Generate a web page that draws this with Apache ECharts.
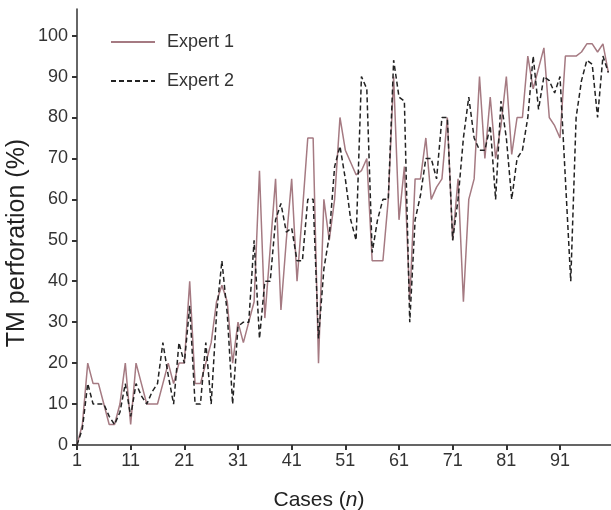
<!DOCTYPE html>
<html>
<head>
<meta charset="utf-8">
<script src="https://cdn.jsdelivr.net/npm/echarts@6/dist/echarts.min.js"></script>
<style>html,body{margin:0;padding:0;background:#fff;}#c{width:611px;height:510px;}</style>
</head>
<body>
<div id="c"></div>
<script>
var expert1 = [0,5,20,15,15,10,5,5,10,20, 5,20,15,10,10,10,15,20,15,20,
  20,40,15,15,20,25,35,39,35,20, 30,25,30,35,67,31,48,65,33,50,
  65,40,57,75,75,20,60,50,60,80, 72,69,66,67,70,45,45,45,60,90,
  55,68,35,65,65,75,60,63,65,80, 50,65,35,60,65,90,70,85,70,78,
  90,71,80,80,95,87,92,97,80,78, 75,95,95,95,96,98,98,96,98,91];
var expert2 = [0,4,15,10,10,10,7,5,8,15, 7,15,12,10,13,15,25,17,10,25,
  20,34,10,10,25,10,32,45,32,10, 29,30,30,50,26,40,40,55,59,52,
  53,45,45,60,60,26,43,51,68,73, 65,55,50,90,87,47,55,60,60,94,
  85,84,30,55,61,70,70,65,80,80, 50,60,75,85,75,72,72,78,60,84,
  75,60,70,72,80,95,82,90,89,86, 90,65,40,80,89,94,93,80,95,91];
var xTicks = [1,11,21,31,41,51,61,71,81,91];
var yTicks = [0,10,20,30,40,50,60,70,80,90,100];
var seriesNames = ['Expert 1','Expert 2'];

function pairs(arr){ return arr.map(function(v,i){ return [i+1, v]; }); }

var chart = echarts.init(document.getElementById('c'), null, {renderer:'canvas'});
var axisColor = '#333';
var ff = 'Liberation Sans, Arial, sans-serif';
chart.setOption({
  animation:false,
  backgroundColor:'#fff',
  grid:{left:77, right:0, top:9, bottom:65, containLabel:false, outerBoundsMode:'none'},
  legend:{
    orient:'vertical', left:105, top:28, itemWidth:44, itemHeight:14, itemGap:21,
    itemStyle:{opacity:0},
    textStyle:{fontFamily:ff, fontSize:18, color:'#333', padding:[0,0,0,7]},
    data:seriesNames
  },
  xAxis:{
    type:'value', min:1, max:100.5,
    name:'Cases ({i|n})', nameLocation:'middle', nameGap:45, nameMoveOverlap:false,
    nameTextStyle:{fontFamily:ff, fontSize:21, color:'#222', padding:[0,50,0,0],
      rich:{i:{fontStyle:'italic', fontFamily:ff, fontSize:21, color:'#222'}}},
    axisLine:{lineStyle:{color:axisColor, width:1.5}},
    axisTick:{show:true, length:5, customValues:xTicks, lineStyle:{color:axisColor, width:2}},
    axisLabel:{customValues:xTicks, margin:7, fontFamily:ff, fontSize:18, color:'#333'},
    splitLine:{show:false}
  },
  yAxis:{
    type:'value', min:0, max:106.5,
    name:'TM perforation (%)', nameLocation:'middle', nameGap:47, nameRotate:90, nameMoveOverlap:false,
    nameTextStyle:{fontFamily:ff, fontSize:25, color:'#222', padding:[0,32,0,0]},
    axisLine:{show:true, lineStyle:{color:axisColor, width:1.5}},
    axisTick:{show:true, length:5, customValues:yTicks, lineStyle:{color:axisColor, width:2}},
    axisLabel:{customValues:yTicks, margin:9, fontFamily:ff, fontSize:18, color:'#333'},
    splitLine:{show:false}
  },
  series:[
    {name:seriesNames[0], type:'line', data:pairs(expert1), symbol:'none', z:2,
     lineStyle:{color:'#a57a82', width:1.5, type:'solid'}, itemStyle:{color:'#a57a82'}},
    {name:seriesNames[1], type:'line', data:pairs(expert2), symbol:'none', z:3,
     lineStyle:{color:'#222', width:1.5, type:[5,3]}, itemStyle:{color:'#222'}}
  ]
});
</script>
</body>
</html>
